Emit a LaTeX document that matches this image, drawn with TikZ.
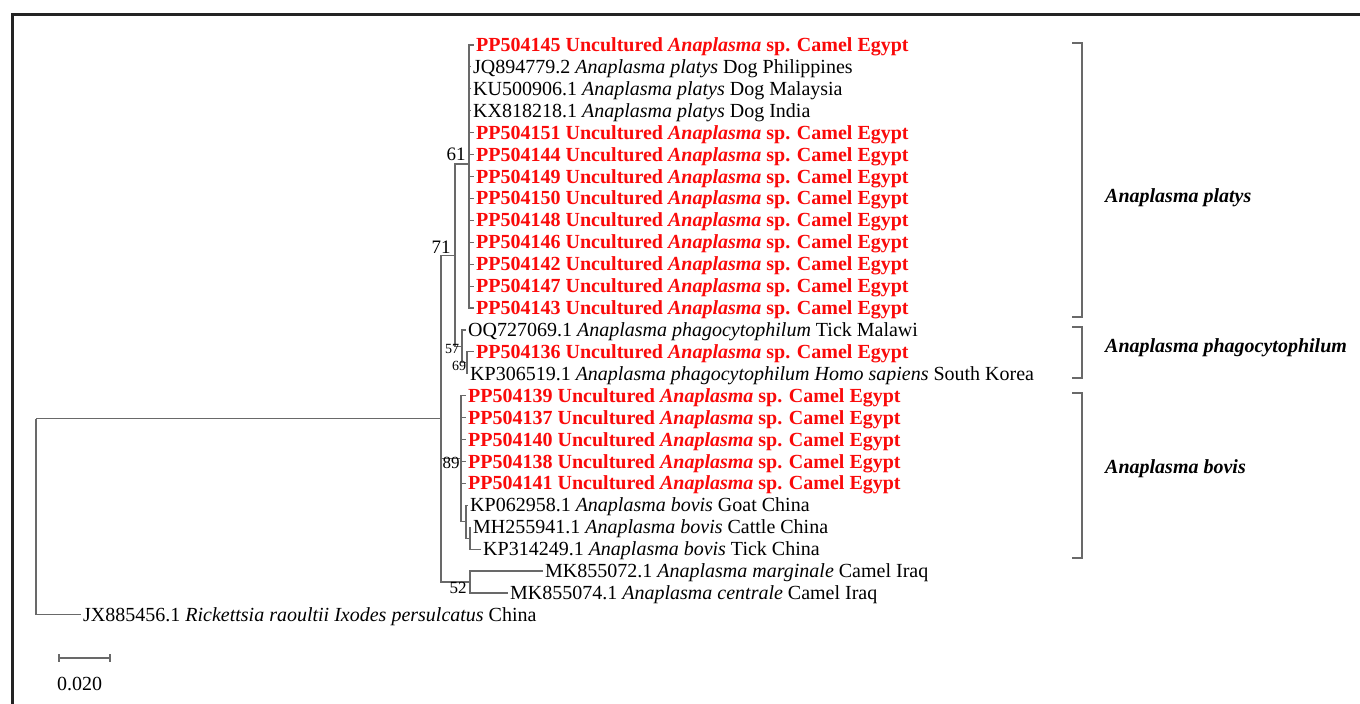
\documentclass[tikz,border=0pt]{standalone}
\usepackage{fontspec}
\usetikzlibrary{calc}
\setmainfont{Liberation Serif}
\newcommand\tfs{\fontsize{20}{24}\selectfont}
\newcommand\egy{Uncultured \textit{Anaplasma} sp. Camel Egypt}
\definecolor{treegray}{RGB}{105,105,105}
\definecolor{framecol}{RGB}{35,35,35}
\definecolor{ourred}{RGB}{250,10,10}
\begin{document}
\begin{tikzpicture}[x=1pt,y=-1pt,
  tip/.style={anchor=west, inner xsep=2pt, inner ysep=0pt, text height=13pt, text depth=0pt, font=\tfs},
  ours/.style={tip, text=ourred, font=\tfs\bfseries},
  edge/.style={draw=treegray, line width=1.1pt},
  brk/.style={draw=treegray, line width=1.3pt},
  boot/.style={inner sep=0pt, font=\fontsize{19}{22}\selectfont},
  bootmd/.style={inner sep=0pt, font=\fontsize{17}{20}\selectfont},
  bootsm/.style={inner sep=0pt, font=\fontsize{14}{16}\selectfont},
  clade/.style={anchor=west, inner sep=0pt, font=\tfs\bfseries\itshape}]
\useasboundingbox (0,0) rectangle (1360,704);
\draw[framecol, line width=3pt] (12.5,704) -- (12.5,14) -- (1360,14);

% tips
\node[ours] (t1)  at (474,45.0)  {PP504145 \egy};
\node[tip]  (t2)  at (471,66.9)  {JQ894779.2 \textit{Anaplasma platys} Dog Philippines};
\node[tip]  (t3)  at (471,88.8)  {KU500906.1 \textit{Anaplasma platys} Dog Malaysia};
\node[tip]  (t4)  at (471,110.8) {KX818218.1 \textit{Anaplasma platys} Dog India};
\node[ours] (t5)  at (474,132.7) {PP504151 \egy};
\node[ours] (t6)  at (474,154.6) {PP504144 \egy};
\node[ours] (t7)  at (474,176.5) {PP504149 \egy};
\node[ours] (t8)  at (474,198.4) {PP504150 \egy};
\node[ours] (t9)  at (474,220.4) {PP504148 \egy};
\node[ours] (t10) at (474,242.3) {PP504146 \egy};
\node[ours] (t11) at (474,264.2) {PP504142 \egy};
\node[ours] (t12) at (474,286.1) {PP504147 \egy};
\node[ours] (t13) at (474,308.0) {PP504143 \egy};
\node[tip]  (t14) at (466,330.0) {OQ727069.1 \textit{Anaplasma phagocytophilum} Tick Malawi};
\node[ours] (t15) at (474,351.9) {PP504136 \egy};
\node[tip]  (t16) at (468,373.8) {KP306519.1 \textit{Anaplasma phagocytophilum Homo sapiens} South Korea};
\node[ours] (t17) at (466,395.7) {PP504139 \egy};
\node[ours] (t18) at (466,417.6) {PP504137 \egy};
\node[ours] (t19) at (466,439.6) {PP504140 \egy};
\node[ours] (t20) at (466,461.5) {PP504138 \egy};
\node[ours] (t21) at (466,483.4) {PP504141 \egy};
\node[tip]  (t22) at (468,505.3) {KP062958.1 \textit{Anaplasma bovis} Goat China};
\node[tip]  (t23) at (471,527.2) {MH255941.1 \textit{Anaplasma bovis} Cattle China};
\node[tip]  (t24) at (481,549.1) {KP314249.1 \textit{Anaplasma bovis} Tick China};
\node[tip]  (t25) at (543,571.0) {MK855072.1 \textit{Anaplasma marginale} Camel Iraq};
\node[tip]  (t26) at (508,593.0) {MK855074.1 \textit{Anaplasma centrale} Camel Iraq};
\node[tip]  (t27) at (81,614.9)  {JX885456.1 \textit{Rickettsia raoultii Ixodes persulcatus} China};

% internal nodes
\coordinate (n61) at (469,164);
\coordinate (n69) at (467,362.9);
\coordinate (n57) at (462,346.4);
\coordinate (n71) at (455,255.2);
\coordinate (nB3) at (470,538.2);
\coordinate (nB2) at (466,521.7);
\coordinate (n89) at (461,458.7);
\coordinate (n52) at (470,582.0);
\coordinate (nI)  at (441,418.6);
\coordinate (nR)  at (36,418.6);

% edges
\foreach \t in {t1,t2,t3,t4,t5,t6,t7,t8,t9,t10,t11,t12,t13}
  \draw[edge] (n61) |- (\t.west);
\draw[edge] (n57) |- (t14.west);
\draw[edge] (n57) |- (n69);
\draw[edge] (n69) |- (t15.west);
\draw[edge] (n69) |- (t16.west);
\draw[edge] (n71) |- (n61);
\draw[edge] (n71) |- (n57);
\foreach \t in {t17,t18,t19,t20,t21}
  \draw[edge] (n89) |- (\t.west);
\draw[edge] (n89) |- (nB2);
\draw[edge] (nB2) |- (t22.west);
\draw[edge] (nB2) |- (nB3);
\draw[edge] (nB3) |- (t23.west);
\draw[edge] (nB3) |- (t24.west);
\draw[edge] (n52) |- (t25.west);
\draw[edge] (n52) |- (t26.west);
\draw[edge] (nI) |- (n71);
\draw[edge] (nI) |- (n89);
\draw[edge] (nI) |- (n52);
\draw[edge] (nR) -- (nI);
\draw[edge] (nR) |- (t27.west);

% bootstrap values
\node[boot]   (b61) at (456,154) {61};
\node[boot]   (b71) at (441,247) {71};
\node[bootsm] (b57) at (452,349) {57};
\node[bootsm] (b69) at (459,366) {69};
\node[bootmd] (b89) at (451,463) {89};
\node[bootmd] (b52) at (458,588) {52};

% clade brackets
\draw[brk] (1072,43) -- (1082,43) -- (1082,317) -- (1072,317);
\draw[brk] (1072,327) -- (1082,327) -- (1082,378) -- (1072,378);
\draw[brk] (1072,393) -- (1082,393) -- (1082,558) -- (1072,558);
\node[clade] (cp) at (1105,198) {Anaplasma platys};
\node[clade] (cf) at (1105,348) {Anaplasma phagocytophilum};
\node[clade] (cb) at (1105,469) {Anaplasma bovis};

% scale bar
\coordinate (s1) at (59,658);
\coordinate (s2) at (110,658);
\draw[edge] (s1) -- (s2);
\draw[edge] ($(s1)+(0,-4)$) -- ($(s1)+(0,4)$);
\draw[edge] ($(s2)+(0,-4)$) -- ($(s2)+(0,4)$);
\node[anchor=west, inner sep=0pt, font=\tfs] (sl) at (57,684) {0.020};
\end{tikzpicture}
\end{document}
